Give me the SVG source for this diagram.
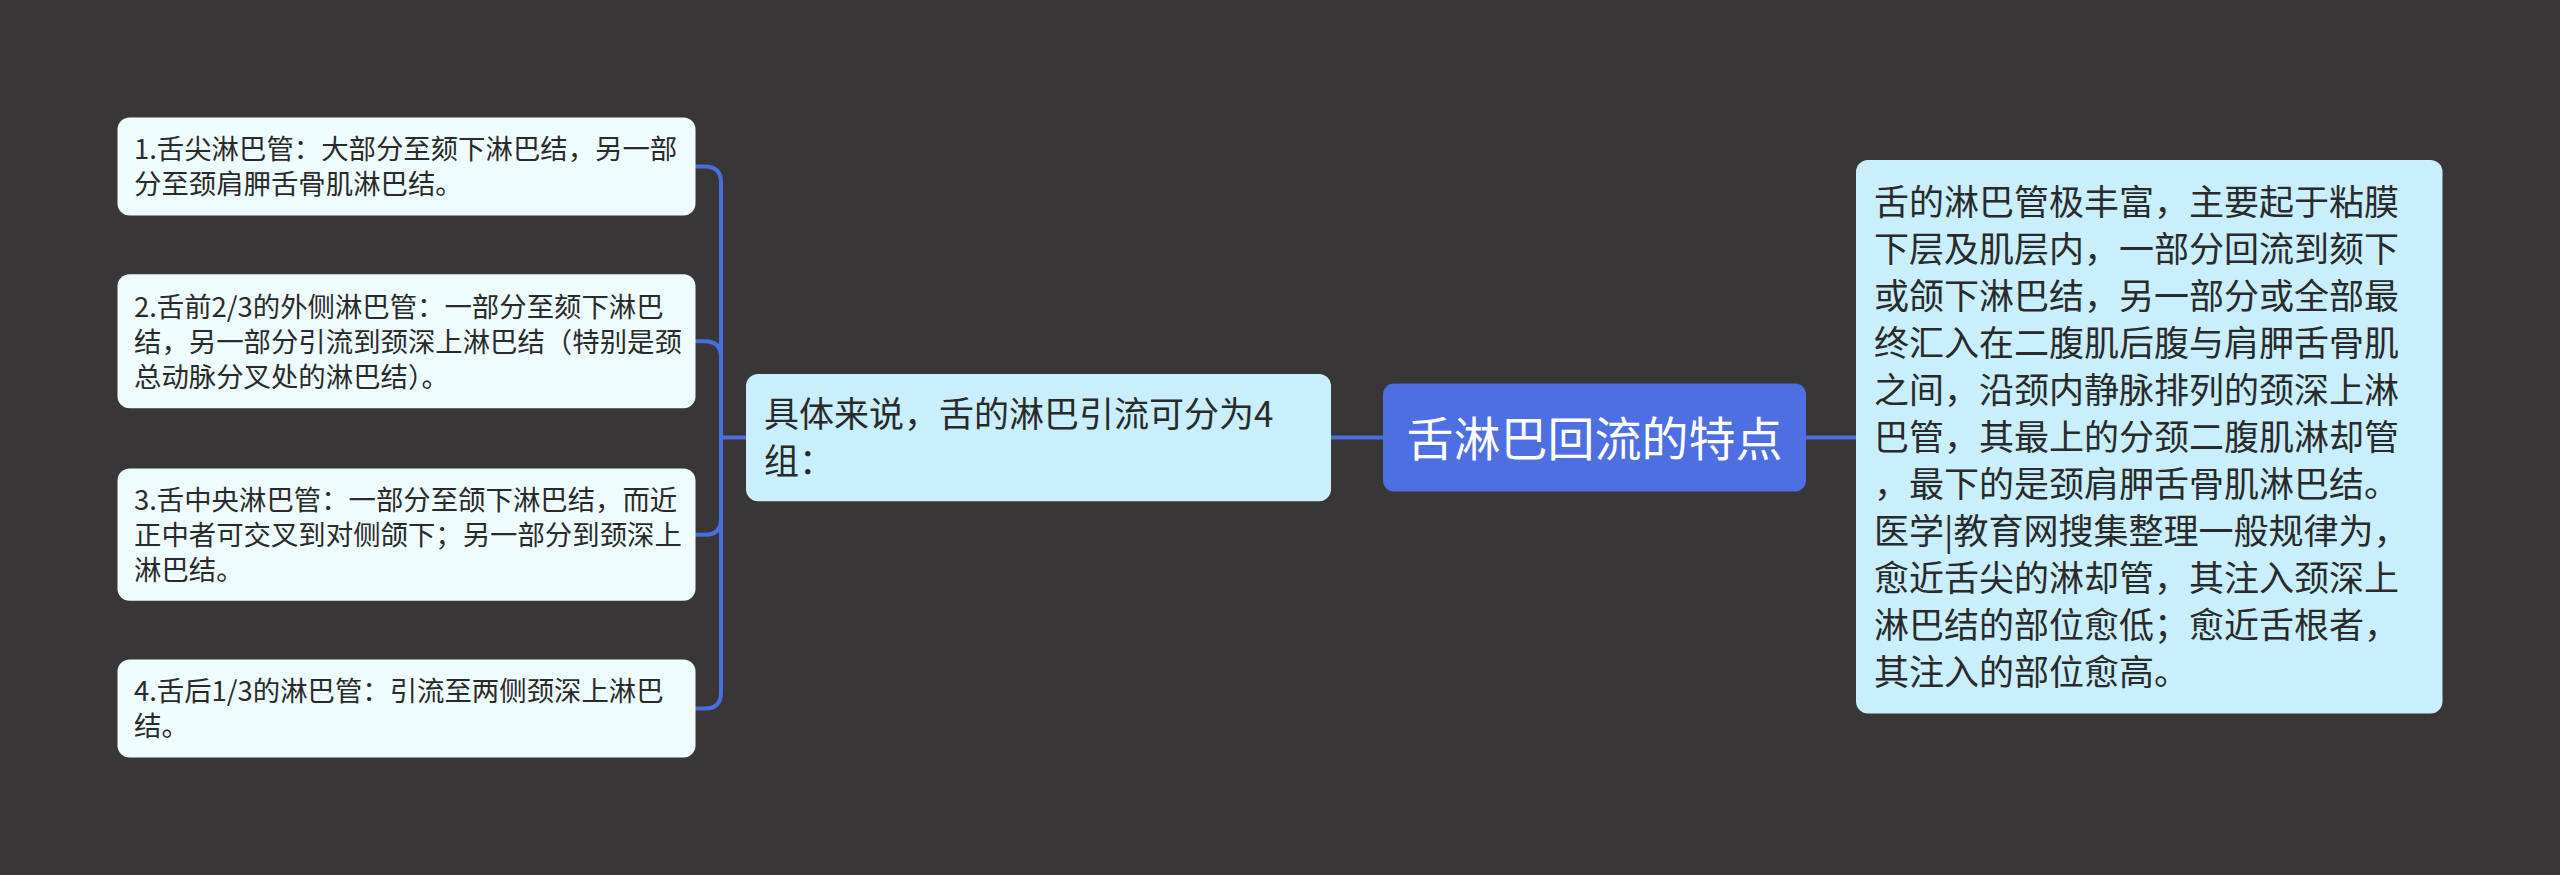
<svg xmlns="http://www.w3.org/2000/svg" width="2560" height="875" viewBox="0 0 2560 875">
<style>
.bg{fill:#383637}
.conn{fill:none;stroke:#4a6ee0;stroke-width:4;stroke-linecap:round}
.leaf{fill:#effcfd}
.sub{fill:#c9eefc}
.root{fill:#4d6fe2}
text{font-family:"Noto Sans CJK SC","Noto Sans",sans-serif;fill:#2a2a2a}
.t27{font-size:27.4px}
.t35{font-size:35px}
.troot{font-size:47px;fill:#ffffff}
</style>
<rect class="bg" x="0" y="0" width="2560" height="875"/>
<g id="connectors">
<path class="conn" d="M1331 437.5 H1383"/>
<path class="conn" d="M1806 437.5 H1856"/>
<path class="conn" d="M746 437.5 H721"/>
<path class="conn" d="M721 437.5 V182.5 Q721 166.5 705 166.5 H695"/>
<path class="conn" d="M721 437.5 V357.3 Q721 341.3 705 341.3 H695"/>
<path class="conn" d="M721 437.5 V518.7 Q721 534.7 705 534.7 H695"/>
<path class="conn" d="M721 437.5 V692.6 Q721 708.6 705 708.6 H695"/>
</g>
<g id="root">
<rect class="root" x="1383" y="383.5" width="423" height="108" rx="11"/>
<text class="troot" x="1594.5" y="455.5" text-anchor="middle">舌淋巴回流的特点</text>
</g>
<g id="middle">
<rect class="sub" x="746" y="374" width="585" height="127.3" rx="12"/>
<text class="t35" x="764" y="427.3">具体来说，舌的淋巴引流可分为4</text>
<text class="t35" x="764" y="474.3">组：</text>
</g>
<g id="right">
<rect class="sub" x="1856" y="160" width="586.5" height="553.5" rx="12"/>
<text class="t35" x="1874" y="215">舌的淋巴管极丰富，主要起于粘膜</text>
<text class="t35" x="1874" y="262">下层及肌层内，一部分回流到颏下</text>
<text class="t35" x="1874" y="309">或颌下淋巴结，另一部分或全部最</text>
<text class="t35" x="1874" y="356">终汇入在二腹肌后腹与肩胛舌骨肌</text>
<text class="t35" x="1874" y="403">之间，沿颈内静脉排列的颈深上淋</text>
<text class="t35" x="1874" y="450">巴管，其最上的分颈二腹肌淋却管</text>
<text class="t35" x="1874" y="497">，最下的是颈肩胛舌骨肌淋巴结。</text>
<text class="t35" x="1874" y="544">医学|教育网搜集整理一般规律为，</text>
<text class="t35" x="1874" y="591">愈近舌尖的淋却管，其注入颈深上</text>
<text class="t35" x="1874" y="638">淋巴结的部位愈低；愈近舌根者，</text>
<text class="t35" x="1874" y="685">其注入的部位愈高。</text>
</g>
<g id="leaf1">
<rect class="leaf" x="117.5" y="117.5" width="578" height="98" rx="12"/>
<text class="t27" x="134" y="159.4">1.舌尖淋巴管：大部分至颏下淋巴结，另一部</text>
<text class="t27" x="134" y="194.4">分至颈肩胛舌骨肌淋巴结。</text>
</g>
<g id="leaf2">
<rect class="leaf" x="117.5" y="274.3" width="578" height="134" rx="12"/>
<text class="t27" x="134" y="316.6">2.舌前2/3的外侧淋巴管：一部分至颏下淋巴</text>
<text class="t27" x="134" y="351.6">结，另一部分引流到颈深上淋巴结（特别是颈</text>
<text class="t27" x="134" y="386.6">总动脉分叉处的淋巴结）。</text>
</g>
<g id="leaf3">
<rect class="leaf" x="117.5" y="468.6" width="578" height="132.2" rx="12"/>
<text class="t27" x="134" y="510">3.舌中央淋巴管：一部分至颌下淋巴结，而近</text>
<text class="t27" x="134" y="545">正中者可交叉到对侧颌下；另一部分到颈深上</text>
<text class="t27" x="134" y="580">淋巴结。</text>
</g>
<g id="leaf4">
<rect class="leaf" x="117.5" y="659.6" width="578" height="98" rx="12"/>
<text class="t27" x="134" y="701.4">4.舌后1/3的淋巴管：引流至两侧颈深上淋巴</text>
<text class="t27" x="134" y="736.4">结。</text>
</g>
</svg>
